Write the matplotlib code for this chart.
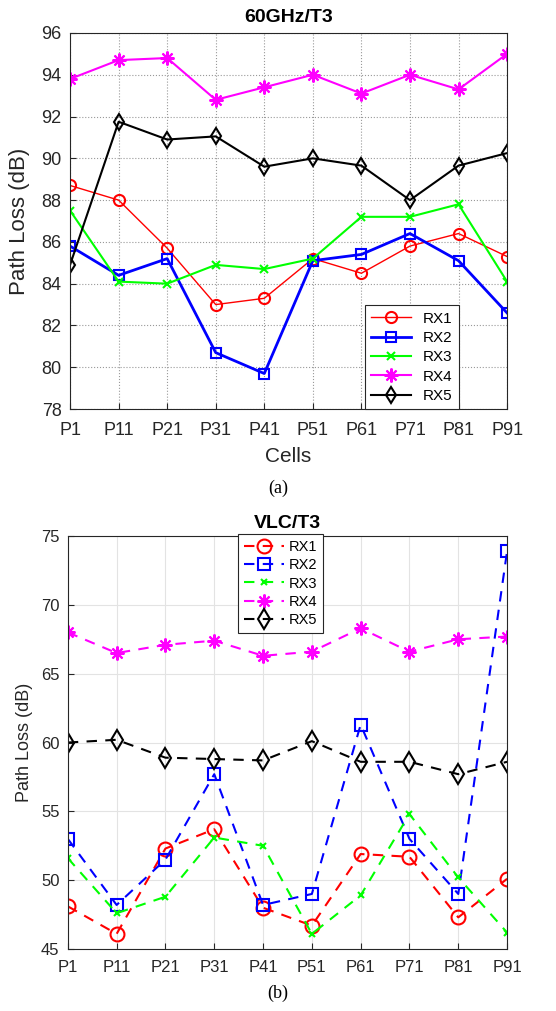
import matplotlib
matplotlib.use("Agg")
import matplotlib.pyplot as plt

plt.rcParams['font.family'] = ['Liberation Sans', 'DejaVu Sans']

cells = ['P1', 'P11', 'P21', 'P31', 'P41', 'P51', 'P61', 'P71', 'P81', 'P91']
rx_names = ['RX1', 'RX2', 'RX3', 'RX4', 'RX5']

# 60GHz/T3
mm_rx1 = [88.7, 88.0, 85.7, 83.0, 83.3, 85.2, 84.5, 85.8, 86.4, 85.3]
mm_rx2 = [85.8, 84.4, 85.2, 80.7, 79.7, 85.1, 85.4, 86.4, 85.1, 82.6]
mm_rx3 = [87.5, 84.1, 84.0, 84.9, 84.7, 85.2, 87.2, 87.2, 87.8, 84.1]
mm_rx4 = [93.8, 94.7, 94.8, 92.8, 93.4, 94.0, 93.1, 94.0, 93.3, 95.0]
mm_rx5 = [84.9, 91.75, 90.9, 91.05, 89.6, 90.0, 89.65, 88.0, 89.65, 90.25]

# VLC/T3
vlc_rx1 = [48.1, 46.1, 52.3, 53.7, 48.0, 46.7, 51.9, 51.7, 47.3, 50.1]
vlc_rx2 = [53.0, 48.2, 51.5, 57.7, 48.2, 49.0, 61.3, 53.0, 49.0, 73.9]
vlc_rx3 = [51.6, 47.6, 48.8, 53.1, 52.5, 46.1, 48.9, 54.8, 50.2, 46.2]
vlc_rx4 = [68.0, 66.5, 67.1, 67.4, 66.3, 66.6, 68.3, 66.6, 67.5, 67.7]
vlc_rx5 = [60.0, 60.2, 58.9, 58.8, 58.7, 60.1, 58.6, 58.6, 57.7, 58.6]

colors = ['#ff0000', '#0000ff', '#00ff00', '#ff00ff', '#000000']
asterisk = (8, 2, 0)
markers = ['o', 's', 'x', asterisk, 'd']
x = list(range(len(cells)))
dark = '#262626'

fig = plt.figure(figsize=(5.56, 10.11), dpi=100)

# ---- top panel
ax1 = fig.add_axes([0.126, 0.5954, 0.786, 0.372])
top_lw = [1.0, 2.0, 1.5, 1.5, 1.5]
top_ms = [8, 7, 6, 10, 8]
for i, ys in enumerate([mm_rx1, mm_rx2, mm_rx3, mm_rx4, mm_rx5]):
    ax1.plot(x, ys, color=colors[i], marker=markers[i], lw=top_lw[i],
             ms=top_ms[i], mfc='none', mew=1.5, label=rx_names[i])
ax1.set_xlim(0, 9)
ax1.set_ylim(78, 96)
ax1.set_yticks(range(78, 97, 2))
ax1.set_xticks(x)
ax1.set_xticklabels(cells)
ax1.tick_params(labelsize=13, direction='in', length=4, colors=dark, labelcolor=dark)
ax1.tick_params(axis='x', pad=9)
ax1.tick_params(axis='y', pad=6)
ax1.grid(True, ls=':', color='#999999', lw=0.8)
ax1.set_title('60GHz/T3', fontsize=14, fontweight='bold', pad=8)
ax1.set_xlabel('Cells', fontsize=15, color=dark, labelpad=6)
ax1.set_ylabel('Path Loss (dB)', fontsize=16, color=dark, labelpad=8)
leg1 = ax1.legend(loc='lower left', bbox_to_anchor=(0.675, 0.0), fontsize=11,
                  fancybox=False, edgecolor=dark, framealpha=1,
                  handlelength=2.6, borderaxespad=0, labelspacing=0.35)
leg1.get_frame().set_linewidth(0.8)
for sp in ax1.spines.values():
    sp.set_color(dark)
fig.text(0.5, 1 - 488 / 1011, '(a)', ha='center', va='center',
         fontsize=13, family='Liberation Serif')

# ---- bottom panel
ax2 = fig.add_axes([0.122, 0.0613, 0.790, 0.4085])
for i, ys in enumerate([vlc_rx1, vlc_rx2, vlc_rx3, vlc_rx4, vlc_rx5]):
    ms = [10, 8, 5, 10, 10][i]
    ax2.plot(x, ys, color=colors[i], marker=markers[i], ls=(0, (5, 4)), lw=1.5,
             ms=ms, mfc='none', mew=1.5, label=rx_names[i])
ax2.set_xlim(0, 9)
ax2.set_ylim(45, 75)
ax2.set_yticks(range(45, 76, 5))
ax2.set_xticks(x)
ax2.set_xticklabels(cells)
ax2.tick_params(labelsize=12, direction='in', length=4, colors=dark, labelcolor=dark)
ax2.tick_params(axis='x', pad=8)
ax2.tick_params(axis='y', pad=6)
ax2.grid(True, ls='-', color='#e3e3e3', lw=0.8)
ax2.set_axisbelow(True)
ax2.set_title('VLC/T3', fontsize=14, fontweight='bold', pad=6)
ax2.set_ylabel('Path Loss (dB)', fontsize=13, color=dark, labelpad=6)
leg2 = ax2.legend(loc='upper left', bbox_to_anchor=(0.387, 1.005), fontsize=10.5,
                  fancybox=False, edgecolor=dark, framealpha=1,
                  handlelength=2.8, borderaxespad=0, labelspacing=0.3,
                  handletextpad=0.3)
leg2.get_frame().set_linewidth(0.8)
for sp in ax2.spines.values():
    sp.set_color(dark)
fig.text(0.5, 1 - 993 / 1011, '(b)', ha='center', va='center',
         fontsize=13, family='Liberation Serif')

fig.savefig('out.png', dpi=100)
